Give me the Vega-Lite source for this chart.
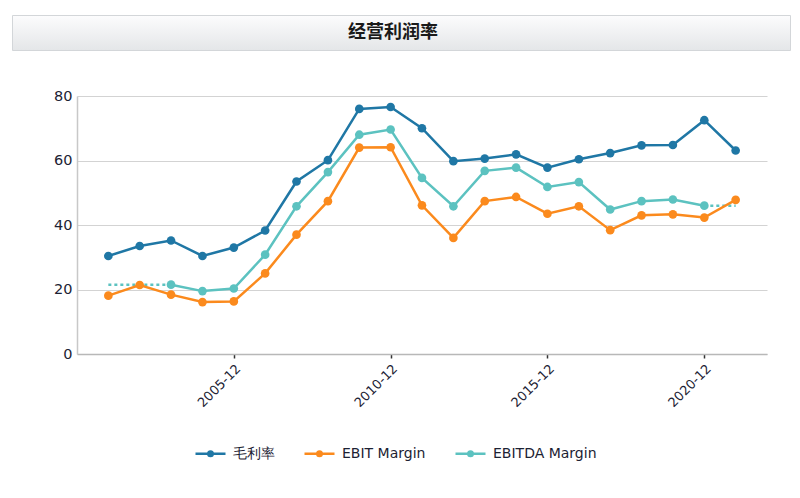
{
  "$schema": "https://vega.github.io/schema/vega-lite/v6.json",
  "background": "#ffffff",
  "padding": {"left": 11, "top": 14, "right": 11, "bottom": 5},
  "columns": 1,
  "spacing": 37,
  "config": {
    "view": {"stroke": null},
    "font": "DejaVu Sans"
  },
  "datasets": {
    "main": [
      {"date": "2001-12-31", "series": "毛利率", "value": 30.4},
      {"date": "2002-12-31", "series": "毛利率", "value": 33.5},
      {"date": "2003-12-31", "series": "毛利率", "value": 35.2},
      {"date": "2004-12-31", "series": "毛利率", "value": 30.4},
      {"date": "2005-12-31", "series": "毛利率", "value": 33.0},
      {"date": "2006-12-31", "series": "毛利率", "value": 38.3},
      {"date": "2007-12-31", "series": "毛利率", "value": 53.5},
      {"date": "2008-12-31", "series": "毛利率", "value": 60.1},
      {"date": "2009-12-31", "series": "毛利率", "value": 76.0},
      {"date": "2010-12-31", "series": "毛利率", "value": 76.6},
      {"date": "2011-12-31", "series": "毛利率", "value": 70.0},
      {"date": "2012-12-31", "series": "毛利率", "value": 59.8},
      {"date": "2013-12-31", "series": "毛利率", "value": 60.6},
      {"date": "2014-12-31", "series": "毛利率", "value": 61.9},
      {"date": "2015-12-31", "series": "毛利率", "value": 57.8},
      {"date": "2016-12-31", "series": "毛利率", "value": 60.4},
      {"date": "2017-12-31", "series": "毛利率", "value": 62.3},
      {"date": "2018-12-31", "series": "毛利率", "value": 64.7},
      {"date": "2019-12-31", "series": "毛利率", "value": 64.8},
      {"date": "2020-12-31", "series": "毛利率", "value": 72.5},
      {"date": "2021-12-31", "series": "毛利率", "value": 63.1},
      {"date": "2001-12-31", "series": "EBIT Margin", "value": 18.1},
      {"date": "2002-12-31", "series": "EBIT Margin", "value": 21.4},
      {"date": "2003-12-31", "series": "EBIT Margin", "value": 18.4},
      {"date": "2004-12-31", "series": "EBIT Margin", "value": 16.1},
      {"date": "2005-12-31", "series": "EBIT Margin", "value": 16.3},
      {"date": "2006-12-31", "series": "EBIT Margin", "value": 25.0},
      {"date": "2007-12-31", "series": "EBIT Margin", "value": 37.0},
      {"date": "2008-12-31", "series": "EBIT Margin", "value": 47.4},
      {"date": "2009-12-31", "series": "EBIT Margin", "value": 64.0},
      {"date": "2010-12-31", "series": "EBIT Margin", "value": 64.1},
      {"date": "2011-12-31", "series": "EBIT Margin", "value": 46.1},
      {"date": "2012-12-31", "series": "EBIT Margin", "value": 36.0},
      {"date": "2013-12-31", "series": "EBIT Margin", "value": 47.4},
      {"date": "2014-12-31", "series": "EBIT Margin", "value": 48.7},
      {"date": "2015-12-31", "series": "EBIT Margin", "value": 43.5},
      {"date": "2016-12-31", "series": "EBIT Margin", "value": 45.8},
      {"date": "2017-12-31", "series": "EBIT Margin", "value": 38.4},
      {"date": "2018-12-31", "series": "EBIT Margin", "value": 43.0},
      {"date": "2019-12-31", "series": "EBIT Margin", "value": 43.3},
      {"date": "2020-12-31", "series": "EBIT Margin", "value": 42.3},
      {"date": "2021-12-31", "series": "EBIT Margin", "value": 47.8},
      {"date": "2003-12-31", "series": "EBITDA Margin", "value": 21.5},
      {"date": "2004-12-31", "series": "EBITDA Margin", "value": 19.5},
      {"date": "2005-12-31", "series": "EBITDA Margin", "value": 20.3},
      {"date": "2006-12-31", "series": "EBITDA Margin", "value": 30.8},
      {"date": "2007-12-31", "series": "EBITDA Margin", "value": 45.8},
      {"date": "2008-12-31", "series": "EBITDA Margin", "value": 56.4},
      {"date": "2009-12-31", "series": "EBITDA Margin", "value": 68.0},
      {"date": "2010-12-31", "series": "EBITDA Margin", "value": 69.6},
      {"date": "2011-12-31", "series": "EBITDA Margin", "value": 54.6},
      {"date": "2012-12-31", "series": "EBITDA Margin", "value": 45.8},
      {"date": "2013-12-31", "series": "EBITDA Margin", "value": 56.8},
      {"date": "2014-12-31", "series": "EBITDA Margin", "value": 57.8},
      {"date": "2015-12-31", "series": "EBITDA Margin", "value": 51.8},
      {"date": "2016-12-31", "series": "EBITDA Margin", "value": 53.3},
      {"date": "2017-12-31", "series": "EBITDA Margin", "value": 44.8},
      {"date": "2018-12-31", "series": "EBITDA Margin", "value": 47.4},
      {"date": "2019-12-31", "series": "EBITDA Margin", "value": 47.9},
      {"date": "2020-12-31", "series": "EBITDA Margin", "value": 46.0}
    ],
    "gaps": [
      {"date": "2001-12-31", "seg": "start", "value": 21.5},
      {"date": "2003-12-31", "seg": "start", "value": 21.5},
      {"date": "2020-12-31", "seg": "end", "value": 46.0},
      {"date": "2021-12-31", "seg": "end", "value": 46.0}
    ],
    "header": [{"t": "经营利润率"}]
  },
  "concat": [
    {
      "width": 778,
      "height": 35,
      "view": {
        "stroke": "#d3d6d9",
        "strokeWidth": 1,
        "fill": {
          "gradient": "linear",
          "x1": 0, "y1": 0, "x2": 0, "y2": 1,
          "stops": [
            {"offset": 0, "color": "#fcfcfd"},
            {"offset": 1, "color": "#e4e6e8"}
          ]
        }
      },
      "data": {"name": "header"},
      "mark": {
        "type": "text",
        "font": "Noto Sans CJK SC",
        "fontSize": 18,
        "fontWeight": "bold",
        "color": "#1a1a1a",
        "dx": -8
      },
      "encoding": {"text": {"field": "t"}}
    },
    {
      "spacing": 0,
      "hconcat": [
        {
          "width": 0,
          "height": 258,
          "data": {"values": [{}]},
          "mark": {"type": "rule", "opacity": 0},
          "encoding": {}
        },
        {
          "width": 690,
          "height": 258,
          "layer": [
            {
              "data": {"name": "gaps"},
              "mark": {
                "type": "line",
                "color": "#5cc2c0",
                "strokeWidth": 2.5,
                "strokeDash": [3, 3]
              },
              "encoding": {
                "x": {"field": "date", "type": "temporal"},
                "y": {"field": "value", "type": "quantitative"},
                "detail": {"field": "seg"}
              }
            },
            {
              "data": {"name": "main"},
              "mark": {
                "type": "line",
                "strokeWidth": 2.5,
                "point": {"filled": true, "size": 75}
              },
              "encoding": {
                "x": {
                  "field": "date",
                  "type": "temporal",
                  "scale": {
                    "type": "utc",
                    "domain": [
                      {"year": 2000, "month": 12, "date": 31, "utc": true},
                      {"year": 2022, "month": 12, "date": 31, "utc": true}
                    ]
                  },
                  "axis": {
                    "title": null,
                    "grid": false,
                    "values": [
                      {"year": 2005, "month": 12, "date": 31, "utc": true},
                      {"year": 2010, "month": 12, "date": 31, "utc": true},
                      {"year": 2015, "month": 12, "date": 31, "utc": true},
                      {"year": 2020, "month": 12, "date": 31, "utc": true}
                    ],
                    "labelExpr": "utcFormat(datum.value, '%Y-%m')",
                    "labelAngle": -45,
                    "labelFontSize": 13,
                    "labelColor": "#1c2233",
                    "labelPadding": 4,
                    "domainColor": "#b8b8b8",
                    "domainWidth": 1.5,
                    "tickColor": "#333333",
                    "tickSize": 4,
                    "tickWidth": 1.5
                  }
                },
                "y": {
                  "field": "value",
                  "type": "quantitative",
                  "scale": {"domain": [0, 80]},
                  "axis": {
                    "title": null,
                    "values": [0, 20, 40, 60, 80],
                    "ticks": false,
                    "labelFontSize": 14.5,
                    "labelColor": "#1c2233",
                    "labelPadding": 5,
                    "minExtent": 45,
                    "domainColor": "#c8c8c8",
                    "domainWidth": 1.5,
                    "gridColor": "#d3d3d3",
                    "gridWidth": 1
                  }
                },
                "color": {
                  "field": "series",
                  "type": "nominal",
                  "sort": ["毛利率", "EBIT Margin", "EBITDA Margin"],
                  "scale": {
                    "domain": ["毛利率", "EBIT Margin", "EBITDA Margin"],
                    "range": ["#1f77a5", "#fb8a1d", "#5cc2c0"]
                  },
                  "legend": {
                    "title": null,
                    "orient": "none",
                    "legendX": 182,
                    "legendY": 422,
                    "direction": "horizontal",
                    "symbolType": "M-1,0L1,0M-0.15,0A0.15,0.15,0,1,1,0.15,0A0.15,0.15,0,1,1,-0.15,0",
                    "symbolSize": 900,
                    "symbolStrokeWidth": 2.5,
                    "labelFontSize": 14,
                    "labelColor": "#1c2233",
                    "labelFont": "DejaVu Sans",
                    "labelOffset": 6,
                    "columnPadding": 24
                  }
                }
              }
            }
          ]
        }
      ]
    }
  ]
}
